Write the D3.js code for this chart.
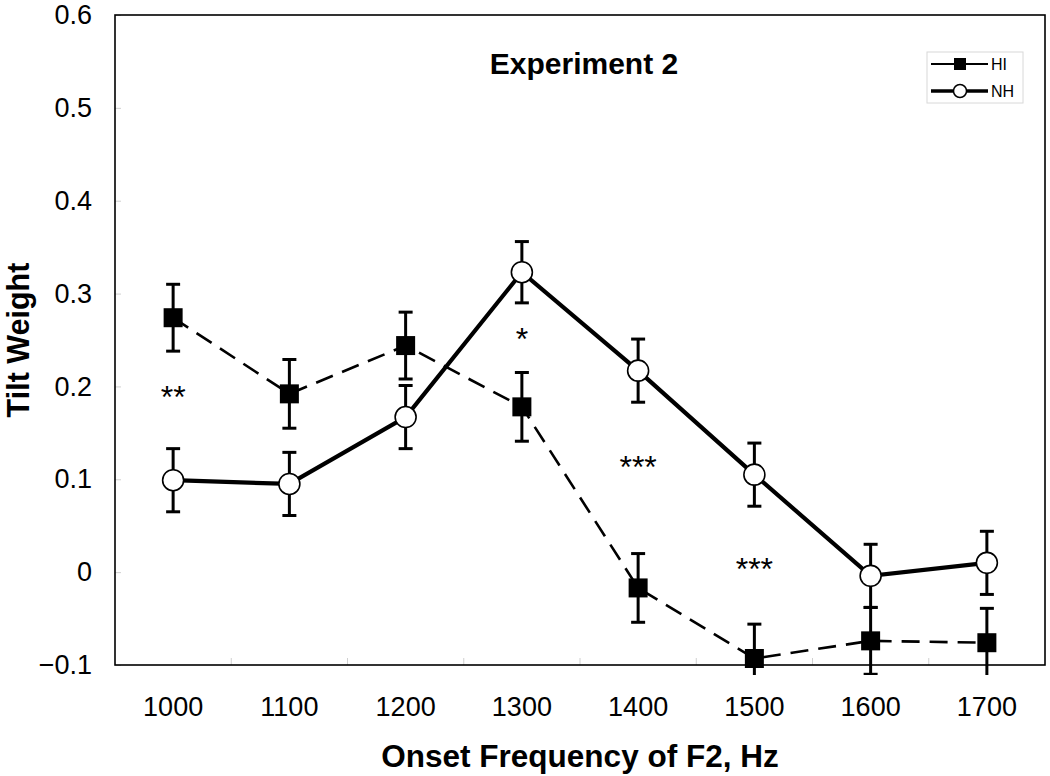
<!DOCTYPE html>
<html><head><meta charset="utf-8">
<script src="https://cdn.jsdelivr.net/npm/d3@7"></script>
<style>body{margin:0;background:#fff;font-family:Arial,"Liberation Sans",sans-serif;}</style>
</head><body>
<svg id="chart" width="1050" height="776"></svg>
<script>
const categories = ["1000","1100","1200","1300","1400","1500","1600","1700"];
const hiValues = [0.274, 0.192, 0.244, 0.178, -0.017, -0.093, -0.074, -0.076];
const hiErrors = [0.036, 0.037, 0.036, 0.037, 0.037, 0.037, 0.036, 0.037];
const nhValues = [0.099, 0.095, 0.167, 0.323, 0.217, 0.105, -0.004, 0.010];
const nhErrors = [0.034, 0.034, 0.034, 0.033, 0.034, 0.034, 0.034, 0.034];
const yTicks = [-0.1, 0, 0.1, 0.2, 0.3, 0.4, 0.5, 0.6];
const annotations = [
  {cat:"1000", y:0.196, text:"**"},
  {cat:"1300", y:0.259, text:"*"},
  {cat:"1400", y:0.121, text:"***"},
  {cat:"1500", y:0.011, text:"***"}
];
const seriesNames = ["HI","NH"];

const FONT = "Arial, Liberation Sans, sans-serif";
const svg = d3.select("#chart");
const m = {left:115, right:5, top:15, bottom:111};
const W = 1050, H = 776;
const pw = W - m.left - m.right, ph = H - m.top - m.bottom;
const g = svg.append("g").attr("transform",`translate(${m.left},${m.top})`);

const x = d3.scaleBand().domain(categories).range([0,pw]).paddingInner(0).paddingOuter(0);
const cx = c => x(c) + x.bandwidth()/2;
const y = d3.scaleLinear().domain([-0.1,0.6]).range([ph,0]);

// y inner ticks (gray)
g.append("g").call(d3.axisRight(y).tickValues(yTicks).tickSize(6).tickFormat(""))
  .call(s=>{s.select(".domain").remove(); s.selectAll("line").attr("stroke","#d0d0d0");});
// y labels
g.append("g").call(d3.axisLeft(y).tickValues(yTicks).tickSize(0).tickPadding(23).tickFormat(d=>d3.format("")(+d.toFixed(1))))
  .call(s=>{s.select(".domain").remove(); s.selectAll("text").attr("font-size",27).attr("font-family",FONT).attr("fill","#000");});
// x inner ticks at boundaries
const bounds = categories.slice(1).map(c=>x(c));
g.append("g").selectAll("line").data(bounds).join("line")
  .attr("x1",d=>d).attr("x2",d=>d).attr("y1",ph).attr("y2",ph-7).attr("stroke","#d0d0d0");
// x labels
g.append("g").attr("transform",`translate(0,${ph})`)
  .call(d3.axisBottom(x).tickSize(0).tickPadding(32))
  .call(s=>{s.select(".domain").remove(); s.selectAll("text").attr("font-size",27).attr("font-family",FONT).attr("fill","#000");});

// frame
g.append("rect").attr("width",pw).attr("height",ph).attr("fill","none").attr("stroke","#000").attr("stroke-width",1.6);

// clip
svg.append("clipPath").attr("id","clip").append("rect").attr("x",-5).attr("y",-5).attr("width",pw+10).attr("height",ph+15);
const plot = g.append("g").attr("clip-path","url(#clip)");

function errorBars(vals, errs){
  const eg = plot.append("g").attr("stroke","#000").attr("stroke-width",3);
  categories.forEach((c,i)=>{
    const X = cx(c);
    eg.append("line").attr("x1",X).attr("x2",X).attr("y1",y(vals[i]+errs[i])).attr("y2",y(vals[i]-errs[i]));
    eg.append("line").attr("x1",X-7).attr("x2",X+7).attr("y1",y(vals[i]+errs[i])).attr("y2",y(vals[i]+errs[i]));
    eg.append("line").attr("x1",X-7).attr("x2",X+7).attr("y1",y(vals[i]-errs[i])).attr("y2",y(vals[i]-errs[i]));
  });
}
errorBars(hiValues, hiErrors);
errorBars(nhValues, nhErrors);

const line = d3.line().x((d,i)=>cx(categories[i])).y(d=>y(d));
plot.append("path").datum(hiValues).attr("d",line).attr("fill","none").attr("stroke","#000")
  .attr("stroke-width",2.6).attr("stroke-dasharray","18,10");
plot.append("path").datum(nhValues).attr("d",line).attr("fill","none").attr("stroke","#000")
  .attr("stroke-width",4.2);

plot.append("g").selectAll("rect").data(hiValues).join("rect")
  .attr("x",(d,i)=>cx(categories[i])-9.5).attr("y",d=>y(d)-9.5).attr("width",19).attr("height",19).attr("fill","#000");
plot.append("g").selectAll("circle").data(nhValues).join("circle")
  .attr("cx",(d,i)=>cx(categories[i])).attr("cy",d=>y(d)).attr("r",10.5)
  .attr("fill","#fff").attr("stroke","#000").attr("stroke-width",1.6);

// annotations
g.append("g").selectAll("text").data(annotations).join("text")
  .attr("x",d=>cx(d.cat)).attr("y",d=>y(d.y)+18).attr("text-anchor","middle")
  .attr("font-size",32).attr("font-family",FONT).text(d=>d.text);

// title
svg.append("text").attr("x",584).attr("y",74).attr("text-anchor","middle")
  .attr("font-size",30).attr("font-weight","bold").attr("font-family",FONT).text("Experiment 2");

// axis titles
svg.append("text").attr("x",m.left+pw/2).attr("y",767).attr("text-anchor","middle")
  .attr("font-size",31.5).attr("font-weight","bold").attr("font-family",FONT).text("Onset Frequency of F2, Hz");
svg.append("text").attr("transform",`translate(29,${m.top+ph/2}) rotate(-90)`).attr("text-anchor","middle")
  .attr("font-size",30.5).attr("font-weight","bold").attr("font-family",FONT).text("Tilt Weight");

// legend
const lg = svg.append("g").attr("transform","translate(927,52)");
lg.append("rect").attr("width",96).attr("height",51).attr("fill","#fff").attr("stroke","#d8d8d8");
seriesNames.forEach((n,i)=>{
  const yy = 12 + i*27;
  lg.append("line").attr("x1",4).attr("x2",61).attr("y1",yy).attr("y2",yy).attr("stroke","#000").attr("stroke-width",i===0?2.2:3.5);
  if(i===0) lg.append("rect").attr("x",27).attr("y",yy-6).attr("width",12).attr("height",12).attr("fill","#000");
  else lg.append("circle").attr("cx",33).attr("cy",yy).attr("r",6.5).attr("fill","#fff").attr("stroke","#000").attr("stroke-width",1.5);
  lg.append("text").attr("x",64).attr("y",yy+6).attr("font-size",16).attr("font-family",FONT).text(n);
});
</script>
</body></html>
